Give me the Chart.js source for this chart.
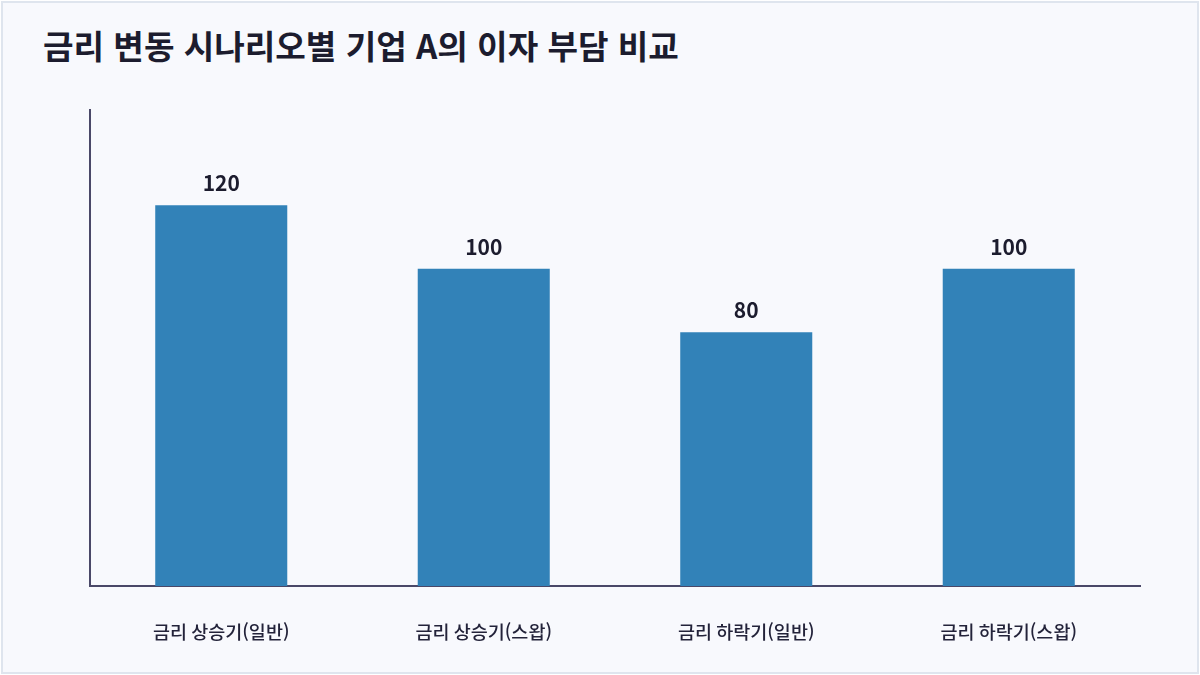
<!DOCTYPE html>
<html lang="ko">
<head>
<meta charset="utf-8">
<script src="https://cdn.jsdelivr.net/npm/chart.js@4/dist/chart.umd.min.js"></script>
<style>
  html, body { margin: 0; padding: 0; background: #ffffff; }
  #frame {
    position: absolute; left: 1px; top: 1px; width: 1194px; height: 669px;
    border: 2px solid #dfe5ee; background: #f8f9fd; overflow: hidden;
  }
  #title {
    position: absolute; left: 40px; top: 20px; margin: 0;
    font-family: "Noto Sans CJK KR", "Noto Sans", sans-serif;
    font-weight: 700; font-size: 33.2px; color: #1c1c2e; line-height: 44px;
    white-space: nowrap;
  }
  #wrap { position: absolute; left: -3px; top: -3px; width: 1200px; height: 675px; }
</style>
</head>
<body>
<div id="frame">
  <h1 id="title">금리 변동 시나리오별 기업 A의 이자 부담 비교</h1>
  <div id="wrap"><canvas id="c" width="1200" height="675"></canvas></div>
</div>
<script>
const categories = ["금리 상승기(일반)", "금리 상승기(스왑)", "금리 하락기(일반)", "금리 하락기(스왑)"];
const interestBurden = [120, 100, 80, 100];
const yMin = 0;
const yMax = 150;

const FONT = '"Noto Sans CJK KR", "Noto Sans", sans-serif';

const valueLabels = {
  id: 'valueLabels',
  afterDatasetsDraw(chart) {
    const ctx = chart.ctx;
    const meta = chart.getDatasetMeta(0);
    ctx.save();
    ctx.font = '700 21px ' + FONT;
    ctx.fillStyle = '#1c1c2e';
    ctx.textAlign = 'center';
    ctx.textBaseline = 'alphabetic';
    meta.data.forEach((bar, i) => {
      ctx.fillText(String(chart.data.datasets[0].data[i]), bar.x, bar.y - 14);
    });
    ctx.restore();
  }
};

new Chart(document.getElementById('c'), {
  type: 'bar',
  data: {
    labels: categories,
    datasets: [{
      data: interestBurden,
      backgroundColor: '#3282b8',
      borderWidth: 0,
      barPercentage: 0.503,
      categoryPercentage: 1.0
    }]
  },
  options: {
    responsive: false,
    animation: false,
    devicePixelRatio: 1,
    layout: { padding: { left: 90, right: 60, top: 110, bottom: 0 } },
    plugins: { legend: { display: false }, title: { display: false }, tooltip: { enabled: false } },
    scales: {
      x: {
        grid: { display: false, drawTicks: false },
        border: { display: true, color: '#4a4868', width: 2 },
        ticks: { color: '#23233a', font: { family: FONT, size: 18.5, weight: 500 }, padding: 35 },
        afterFit: s => { s.height = 89; }
      },
      y: {
        min: yMin, max: yMax,
        grid: { display: false, drawTicks: false },
        border: { display: true, color: '#4a4868', width: 2 },
        ticks: { display: false },
        afterFit: s => { s.width = 0; }
      }
    }
  },
  plugins: [valueLabels]
});
</script>
</body>
</html>
